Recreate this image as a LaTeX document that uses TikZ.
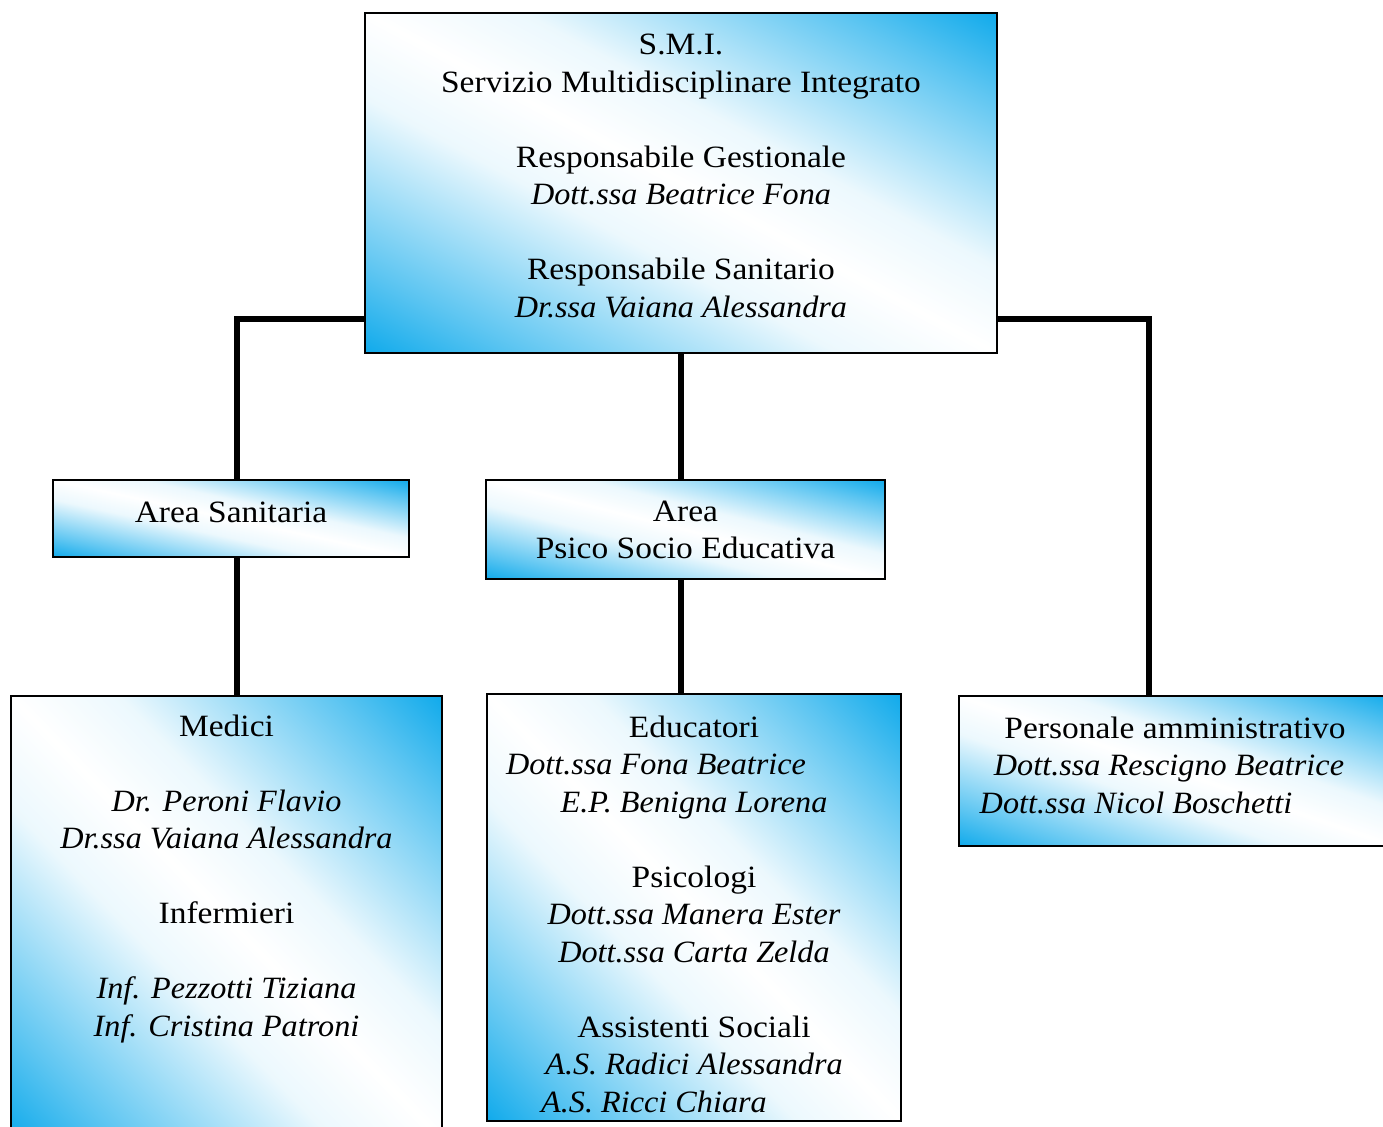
\documentclass[tikz,border=0pt]{standalone}
\usepackage{fontspec}
\setmainfont{Liberation Serif}[UprightFeatures={FakeStretch=1.08}, ItalicFeatures={FakeStretch=1.04}]

\definecolor{skyb}{RGB}{16,170,235}
\pgfdeclarehorizontalshading{boxshade}{100bp}{color(0bp)=(skyb); color(25bp)=(skyb);
  color(31.25bp)=(skyb!68); color(37.5bp)=(skyb!38); color(43.75bp)=(skyb!8); color(50bp)=(white);
  color(56.25bp)=(skyb!8); color(62.5bp)=(skyb!38); color(68.75bp)=(skyb!68);
  color(75bp)=(skyb); color(100bp)=(skyb)}

\tikzset{
  box/.style={rectangle, inner sep=0pt},
  boxline/.style={draw=black, line width=1pt},
  txt/.style={align=center, font=\fontsize{15.5}{18.75}\selectfont, inner sep=0pt},
  link/.style={line width=3pt}
}
\newcommand{\gap}{\\[18.75pt]}
\newcommand{\pad}[1]{\rule{#1}{0pt}}
% diagonal blue-white-blue fill of a box node: name, half width, half height (pt)
\newcommand{\shadebox}[3]{%
  \begin{scope}
    \clip (#1.south west) rectangle (#1.north east);
    \begin{scope}[transform canvas={cm={#2,#3,-#2,#3,(#1.center)}}]
      \shade[shading=boxshade, x=1pt, y=1pt] (-1,-1) rectangle (1,1);
    \end{scope}
  \end{scope}
  \draw[boxline] (#1.south west) rectangle (#1.north east);
}

\begin{document}
\begin{tikzpicture}[x=0.5pt,y=-0.5pt]

  \clip (0,0) rectangle (1383,1126);

  % Top box
  \node[box, minimum width=316pt, minimum height=170pt] (smi) at (681,183) {};
  \shadebox{smi}{158}{85}
  \node[txt] (smi-t) at (681,176) {S.M.I.\\Servizio Multidisciplinare Integrato\gap
    Responsabile Gestionale\\\textit{Dott.ssa Beatrice Fona}\gap
    Responsabile Sanitario\\\textit{Dr.ssa Vaiana Alessandra}};

  % Areas
  \node[box, minimum width=178pt, minimum height=38.5pt] (sanit) at (231,518.5) {};
  \shadebox{sanit}{89}{19.25}
  \node[txt] (sanit-t) at (231,512) {Area Sanitaria};

  \node[box, minimum width=199.5pt, minimum height=49.5pt] (psico) at (685.5,529.5) {};
  \shadebox{psico}{99.75}{24.75}
  \node[txt] (psico-t) at (685.5,530) {Area\\Psico Socio Educativa};

  % Bottom row
  \node[box, minimum width=215.5pt, minimum height=222pt] (medici) at (226.5,918) {};
  \shadebox{medici}{107.75}{111}
  \node[txt] (medici-t) at (226.5,879) {Medici\gap
    \textit{Dr. Peroni Flavio}\\\textit{Dr.ssa Vaiana Alessandra}\gap
    Infermieri\gap
    \textit{Inf. Pezzotti Tiziana}\\\textit{Inf. Cristina Patroni}};

  \node[box, minimum width=207pt, minimum height=213.5pt] (educ) at (694,907.5) {};
  \shadebox{educ}{103.5}{106.75}
  \node[txt] (educ-t) at (694,914) {Educatori\\\textit{Dott.ssa Fona Beatrice}\pad{38pt}\\
    \textit{E.P. Benigna Lorena}\gap
    Psicologi\\\textit{Dott.ssa Manera Ester}\\\textit{Dott.ssa Carta Zelda}\gap
    Assistenti Sociali\\\textit{A.S. Radici Alessandra}\\\textit{A.S. Ricci Chiara}\pad{40pt}};

  \node[box, minimum width=218pt, minimum height=75pt] (pers) at (1177,771) {};
  \shadebox{pers}{109}{37.5}
  \node[txt] (pers-t) at (1175,765) {Personale amministrativo\\
    \textit{Dott.ssa Rescigno Beatrice}\pad{6pt}\\
    \textit{Dott.ssa Nicol Boschetti}\pad{39pt}};

  % Connectors
  \draw[link] ([yshift=17pt]smi.south west) -| ([xshift=3pt]sanit.north);
  \draw[link] ([xshift=3pt]sanit.south) -- ([xshift=3pt]sanit.south |- medici.north);
  \draw[link] (smi.south) -- (smi.south |- psico.north);
  \draw[link] (smi.south |- psico.south) -- (smi.south |- educ.north);
  \draw[link] ([yshift=17pt]smi.south east) -| ([xshift=-14pt]pers.north);

\end{tikzpicture}
\end{document}
